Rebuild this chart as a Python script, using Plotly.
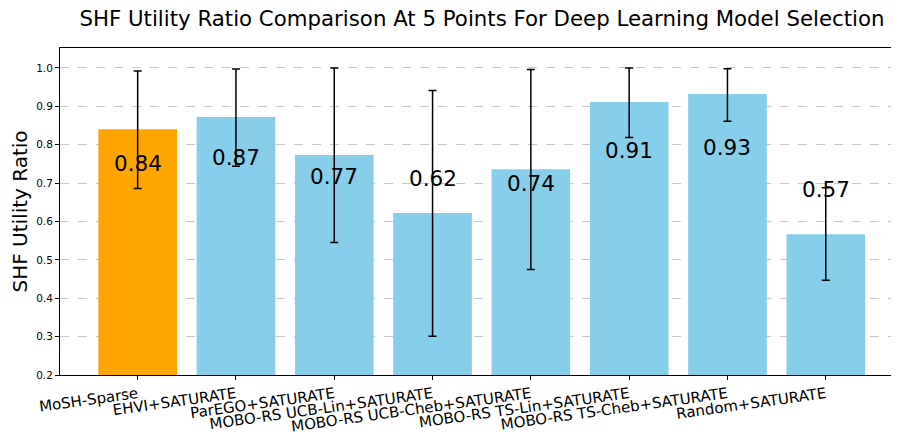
import plotly.graph_objects as go

methods = [
    "MoSH-Sparse",
    "EHVI+SATURATE",
    "ParEGO+SATURATE",
    "MOBO-RS UCB-Lin+SATURATE",
    "MOBO-RS UCB-Cheb+SATURATE",
    "MOBO-RS TS-Lin+SATURATE",
    "MOBO-RS TS-Cheb+SATURATE",
    "Random+SATURATE",
]
ratio_mean = [0.84, 0.872, 0.773, 0.622, 0.736, 0.911, 0.932, 0.567]
ratio_upper = [0.992, 0.997, 1.000, 0.941, 0.996, 1.000, 0.998, 0.688]
ratio_lower = [0.686, 0.744, 0.545, 0.301, 0.475, 0.819, 0.861, 0.447]
value_labels = ["0.84", "0.87", "0.77", "0.62", "0.74", "0.91", "0.93", "0.57"]

# where the value labels sit (data units)
label_y = [0.752, 0.768, 0.716, 0.713, 0.700, 0.786, 0.794, 0.684]

FONT = "DejaVu Sans"
colors = ["#FFA500"] + ["#87CEEB"] * (len(methods) - 1)

fig = go.Figure()
fig.add_trace(go.Bar(
    x=methods, y=ratio_mean, width=0.8,
    marker=dict(color=colors, line=dict(width=0)),
    error_y=dict(
        type="data", symmetric=False,
        array=[u - m for u, m in zip(ratio_upper, ratio_mean)],
        arrayminus=[m - l for m, l in zip(ratio_mean, ratio_lower)],
        color="black", thickness=1.5, width=4,
    ),
    showlegend=False,
))

for m, y, t in zip(methods, label_y, value_labels):
    fig.add_annotation(x=m, y=y, text=t, showarrow=False,
                       font=dict(family=FONT, size=21.5, color="black"),
                       xanchor="center", yanchor="middle")

# page body adds an 8px offset, so the figure is 8px smaller than the window
fig.update_layout(
    width=891, height=432,
    template="plotly_white",
    font=dict(family=FONT, color="black"),
    title=dict(text="SHF Utility Ratio Comparison At 5 Points For Deep Learning Model Selection",
               x=0.532, xanchor="center", y=0.975, yanchor="middle",
               font=dict(size=21.3, color="black")),
    margin=dict(l=52, r=0, t=40, b=65),
    plot_bgcolor="white", paper_bgcolor="white",
    bargap=0.2,
)
fig.update_xaxes(
    range=[-0.79, 7.745], tickangle=-8, automargin=False,
    tickfont=dict(size=15, color="black"),
    showline=True, linecolor="black", linewidth=1, mirror=True,
    ticks="outside", ticklen=4, tickcolor="black",
    showgrid=False,
)
fig.update_yaxes(
    range=[0.2, 1.052], tickvals=[0.2, 0.3, 0.4, 0.5, 0.6, 0.7, 0.8, 0.9, 1.0],
    ticktext=["0.2", "0.3", "0.4", "0.5", "0.6", "0.7", "0.8", "0.9", "1.0"],
    tickfont=dict(size=10.5, color="black"), automargin=False,
    title=dict(text="SHF Utility Ratio", font=dict(size=20, color="black"), standoff=6),
    showline=True, linecolor="black", linewidth=1,
    ticks="outside", ticklen=4, tickcolor="black",
    showgrid=True, gridcolor="#c8c8c8", griddash="dash", gridwidth=1,
    zeroline=False,
)

fig.write_html("out.html")
